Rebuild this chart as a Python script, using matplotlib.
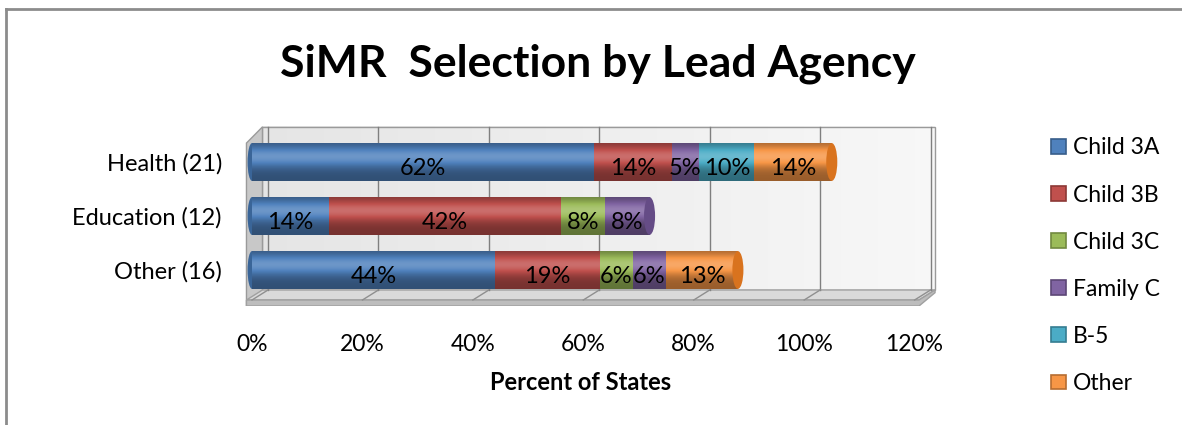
import numpy as np
import matplotlib
matplotlib.use("Agg")
import matplotlib.pyplot as plt
from matplotlib.patches import Polygon, Ellipse, Rectangle
from matplotlib.lines import Line2D
from matplotlib.colors import to_rgb

plt.rcParams["font.family"] = ["Lato", "DejaVu Sans"]

# ── Data ──────────────────────────────────────────────────────────────────────
agencies = ["Other (16)", "Education (12)", "Health (21)"]          # bottom -> top
series = ["Child 3A", "Child 3B", "Child 3C", "Family C", "B-5", "Other"]
child_3a = [44, 14, 62]
child_3b = [19, 42, 14]
child_3c = [6, 8, 0]
family_c = [6, 8, 5]
b_5 = [0, 0, 10]
other = [13, 0, 14]
values = [child_3a, child_3b, child_3c, family_c, b_5, other]
xticks = [0, 20, 40, 60, 80, 100, 120]

colors = ["#4F81BD", "#C0504D", "#9BBB59", "#8064A2", "#4BACC6", "#F79646"]
edge_colors = ["#385D8A", "#8C3836", "#71893F", "#5C4776", "#357D91", "#B66D31"]
cap_colors = ["#3A6598", "#A03C3A", "#7E9E3E", "#654C86", "#2F93AE", "#D9731E"]

# ── Figure ────────────────────────────────────────────────────────────────────
W, H = 1182, 425
fig = plt.figure(figsize=(W / 100, H / 100), dpi=100)
ax = fig.add_axes([240 / W, 1 - 306 / H, 700 / W, 181 / H])
ax.set_xlim(-2.17, 124.6)
ax.set_ylim(-0.667, 2.685)

DX, DY = 2.9, 0.3           # depth offset of the 3-D back wall (data units)
floor_back, floor_top, floor_front = -0.37, -0.556, -0.667
wall_top = 2.65

# back wall (light gradient), left side wall, floor
wall = np.linspace(0, 1, 50)[None, :]
wall_img = np.stack([0.90 + 0.07 * wall] * 3, axis=-1)
ax.imshow(wall_img, extent=[-1 + DX, 123.7, floor_back, wall_top], aspect="auto",
          zorder=0, interpolation="bilinear")
ax.add_patch(Rectangle((-1 + DX, floor_back), 123.7 - (-1 + DX), wall_top - floor_back,
                       facecolor="none", edgecolor="#9a9a9a", lw=1, zorder=0.2))
ax.add_patch(Polygon([(-1, floor_front), (-1, wall_top - DY), (-1 + DX, wall_top),
                      (-1 + DX, floor_back)], closed=True,
                     facecolor="#c8c8c8", edgecolor="#9a9a9a", lw=1, zorder=0.5))
ax.add_patch(Polygon([(-1 + DX, floor_back), (123.7, floor_back), (120.8, floor_top),
                      (-1, floor_top)], closed=True,
                     facecolor="#dadada", edgecolor="#a0a0a0", lw=1, zorder=0.5))
ax.add_patch(Polygon([(-1, floor_top), (120.8, floor_top), (123.7, floor_back),
                      (123.7, floor_back - 0.05), (120.8, floor_front), (-1, floor_front)],
                     closed=True, facecolor="#bdbdbd", edgecolor="#a0a0a0", lw=1, zorder=0.5))
for t in xticks:
    ax.plot([t + DX, t + DX], [floor_back, wall_top], color="#7f7f7f", lw=1, zorder=1)
    ax.plot([t + DX, t], [floor_back, floor_top], color="#8f8f8f", lw=1, zorder=1)

# ── Cylinder bars ─────────────────────────────────────────────────────────────
ypos = np.arange(len(agencies))
bar_h = 0.70
prof = np.linspace(0, 1, 60)
shade = 0.62 + 0.55 * np.exp(-((prof - 0.35) / 0.28) ** 2)   # top -> bottom


def shaded(color):
    rgb = np.array(to_rgb(color))
    img = np.empty((len(shade), 1, 3))
    for i, s in enumerate(shade):
        img[i, 0] = rgb * s if s <= 1 else rgb + (1 - rgb) * (s - 1)
    return img


left = np.zeros(len(agencies))
totals = np.sum(values, axis=0)
for k, (vals, c, cc) in enumerate(zip(values, colors, cap_colors)):
    vals = np.array(vals, dtype=float)
    bars = ax.barh(ypos, vals, left=left, height=bar_h, color=c, edgecolor="none",
                   label=series[k], zorder=3)
    for b, v, l0, y in zip(bars, vals, left, ypos):
        if v <= 0:
            continue
        im = ax.imshow(shaded(c), extent=[l0, l0 + v, y - bar_h / 2, y + bar_h / 2],
                       aspect="auto", zorder=3.5, interpolation="bilinear")
        im.set_clip_path(b)
        if k == 0:
            ax.add_patch(Ellipse((0, y), 1.6, bar_h, facecolor=cc, zorder=2.9))
        if abs(l0 + v - totals[int(y)]) < 1e-9:
            ax.add_patch(Ellipse((l0 + v, y), 2.0, bar_h, facecolor=cc, edgecolor="none",
                                 zorder=3.6))
        ax.text(l0 + v / 2, y - 0.12, f"{v:.0f}%", ha="center", va="center",
                fontsize=17, color="#000000", zorder=5)
    left = left + vals

ax.set_xticks(xticks)
ax.set_xticklabels([f"{t}%" for t in xticks], fontsize=16.5)
ax.set_yticks(ypos)
ax.set_yticklabels(agencies, fontsize=17)
ax.tick_params(axis="x", length=0, pad=20)
ax.tick_params(axis="y", length=0, pad=13)
for s in ax.spines.values():
    s.set_visible(False)
ax.set_facecolor("none")

fig.text(598 / W, 1 - 64 / H, "SiMR  Selection by Lead Agency", ha="center", va="center",
         fontsize=32, fontweight="bold")
fig.text(581 / W, 1 - 383 / H, "Percent of States", ha="center", va="center",
         fontsize=17, fontweight="bold")

leg_handles = [Rectangle((0, 0), 1, 1, facecolor=c, edgecolor=ec, lw=1.2)
               for c, ec in zip(colors, edge_colors)]
fig.legend(leg_handles, series, loc="upper left", bbox_to_anchor=(1040 / W, 1 - 126 / H),
           frameon=False, fontsize=16.5, handlelength=0.62, handleheight=0.62,
           handletextpad=0.3, labelspacing=1.14, borderpad=0)

fig.add_artist(Line2D([6 / W, 1], [1 - 9 / H, 1 - 9 / H], color="#8c8c8c", lw=2))
fig.add_artist(Line2D([6 / W, 6 / W], [0, 1 - 9 / H], color="#8c8c8c", lw=2))

fig.savefig("out.png", dpi=100)
